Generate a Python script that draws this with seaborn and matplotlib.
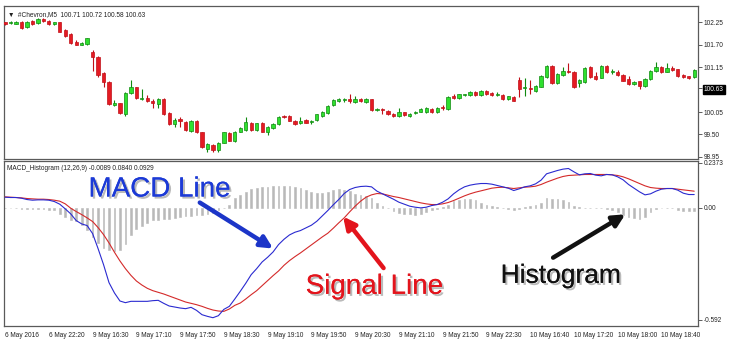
import numpy as np
import matplotlib
matplotlib.use("Agg")
import matplotlib.pyplot as plt
import matplotlib.patheffects as pe
import seaborn as sns

# ---------------- data ----------------
opens = [102.24,102.23,102.20,102.26,102.12,102.27,102.22,102.32,102.27,102.19,
         102.24,102.06,101.95,101.75,101.70,101.72,101.51,101.39,101.01,100.79,
         100.23,100.26,99.99,100.52,100.65,100.37,100.39,100.32,100.24,100.37,
         100.02,99.75,99.87,99.81,99.59,99.83,99.55,99.15,99.24,99.12,
         99.30,99.53,99.34,99.57,99.61,99.79,99.61,99.79,99.55,99.65,
         99.75,99.96,99.95,99.83,99.77,99.85,99.81,99.85,99.95,100.02,
         100.21,100.33,100.35,100.38,100.30,100.37,100.30,100.36,100.10,100.12,
         100.08,100.00,99.96,100.04,99.96,100.02,100.06,100.05,100.13,100.05,
         100.17,100.13,100.43,100.40,100.46,100.47,100.54,100.47,100.56,100.51,
         100.47,100.46,100.36,100.41,100.83,100.63,100.63,100.57,100.67,100.91,
         101.17,100.75,100.96,101.05,101.04,100.77,100.79,101.16,100.93,100.89,
         101.18,101.03,101.04,100.96,100.85,100.73,100.80,100.69,100.85,101.06,
         101.16,101.04,101.13,101.09,100.96,100.92,100.90]
highs = [102.26,102.28,102.28,102.27,102.28,102.29,102.34,102.34,102.29,102.26,
         102.26,102.08,101.97,101.80,101.75,101.87,101.57,101.41,101.03,100.81,
         100.34,100.28,100.53,100.83,100.67,100.61,100.47,100.36,100.40,100.39,
         100.04,99.90,99.94,99.83,99.85,99.85,99.57,99.29,99.26,99.32,
         99.57,99.55,99.59,99.69,99.92,99.81,99.79,99.81,99.71,99.78,
         99.96,99.98,99.97,99.85,99.94,99.87,99.86,100.01,100.08,100.22,
         100.36,100.40,100.39,100.49,100.44,100.39,100.39,100.38,100.14,100.14,
         100.10,100.02,100.14,100.06,100.02,100.08,100.14,100.17,100.15,100.17,
         100.22,100.43,100.48,100.50,100.49,100.57,100.56,100.58,100.58,100.53,
         100.53,100.48,100.45,100.43,100.91,100.87,100.83,100.71,100.95,101.20,
         101.19,101.00,101.16,101.24,101.06,100.85,101.15,101.18,101.04,101.20,
         101.20,101.10,101.08,100.98,100.93,100.81,100.82,100.87,101.08,101.27,
         101.18,101.24,101.18,101.11,100.98,100.94,101.10]
lows = [102.18,102.19,102.19,102.08,102.10,102.18,102.20,102.26,102.17,102.17,
        102.00,101.89,101.71,101.68,101.68,101.70,101.06,100.90,100.67,100.23,
        100.20,100.00,99.95,100.50,100.38,100.34,100.30,100.14,100.14,99.97,
        99.73,99.69,99.69,99.59,99.57,99.53,99.18,99.08,99.06,99.08,
        99.28,99.33,99.32,99.55,99.59,99.59,99.59,99.55,99.49,99.63,
        99.73,99.91,99.82,99.74,99.75,99.77,99.76,99.83,99.93,100.00,
        100.19,100.29,100.30,100.26,100.28,100.30,100.28,100.08,100.08,99.99,
        99.97,99.92,99.94,99.95,99.94,100.00,100.04,100.03,100.03,100.03,
        100.10,100.11,100.37,100.38,100.45,100.45,100.45,100.45,100.46,100.45,
        100.43,100.35,100.34,100.31,100.41,100.43,100.49,100.55,100.65,100.89,
        100.73,100.73,100.94,101.01,100.63,100.65,100.77,100.88,100.83,100.87,
        101.00,100.98,100.94,100.80,100.72,100.71,100.61,100.67,100.83,101.04,
        101.00,101.02,101.06,100.91,100.87,100.85,100.88]
closes = [102.20,102.24,102.26,102.10,102.26,102.20,102.32,102.28,102.19,102.24,
          102.01,101.91,101.73,101.70,101.73,101.85,101.39,100.96,100.79,100.25,
          100.26,100.02,100.51,100.67,100.40,100.39,100.32,100.26,100.36,99.99,
          99.75,99.85,99.82,99.61,99.83,99.55,99.20,99.27,99.12,99.30,
          99.55,99.35,99.57,99.67,99.80,99.61,99.77,99.57,99.69,99.76,
          99.94,99.93,99.84,99.76,99.83,99.79,99.84,99.99,100.06,100.20,
          100.34,100.36,100.37,100.31,100.36,100.32,100.37,100.10,100.12,100.09,
          99.99,99.96,100.06,99.97,100.00,100.06,100.12,100.15,100.05,100.15,
          100.14,100.41,100.40,100.48,100.48,100.55,100.47,100.56,100.48,100.47,
          100.49,100.37,100.43,100.33,100.61,100.65,100.61,100.69,100.93,101.18,
          100.75,100.98,101.05,101.02,100.65,100.83,101.13,100.90,100.85,101.18,
          101.02,101.05,100.96,100.82,100.74,100.79,100.69,100.85,101.06,101.16,
          101.02,101.12,101.08,100.93,100.91,100.87,101.08]

macd = [0.0564,0.0547,0.0547,0.0511,0.0441,0.0406,0.0423,0.0423,0.0406,0.0335,
        0.0194,-0.0053,-0.0317,-0.0670,-0.0847,-0.0935,-0.1358,-0.2152,-0.2998,-0.3951,
        -0.4497,-0.4921,-0.5009,-0.4938,-0.4938,-0.4938,-0.4938,-0.4903,-0.4885,-0.5044,
        -0.5185,-0.5238,-0.5291,-0.5326,-0.5256,-0.5415,-0.5644,-0.5732,-0.5803,-0.5697,
        -0.5362,-0.5203,-0.4815,-0.4409,-0.3986,-0.3527,-0.3210,-0.2857,-0.2610,-0.2328,
        -0.1940,-0.1658,-0.1429,-0.1287,-0.1199,-0.1058,-0.0917,-0.0705,-0.0423,-0.0141,
        0.0159,0.0441,0.0758,0.0970,0.1076,0.1129,0.1146,0.1111,0.0882,0.0741,
        0.0600,0.0459,0.0300,0.0194,0.0088,0.0035,0.0000,0.0035,0.0123,0.0176,
        0.0300,0.0476,0.0741,0.0952,0.1111,0.1199,0.1252,0.1287,0.1287,0.1252,
        0.1182,0.1111,0.1041,0.0917,0.1005,0.1111,0.1164,0.1270,0.1464,0.1799,
        0.1887,0.1975,0.2046,0.2081,0.1905,0.1746,0.1799,0.1817,0.1728,0.1693,
        0.1764,0.1746,0.1640,0.1481,0.1235,0.1041,0.0847,0.0688,0.0741,0.0882,
        0.0988,0.1023,0.1023,0.0935,0.0776,0.0705,0.0705]
signal = [0.0582,0.0564,0.0547,0.0529,0.0494,0.0476,0.0459,0.0459,0.0441,0.0406,
          0.0353,0.0212,-0.0018,-0.0194,-0.0353,-0.0529,-0.0723,-0.1041,-0.1411,-0.1852,
          -0.2346,-0.2804,-0.3210,-0.3563,-0.3862,-0.4074,-0.4250,-0.4374,-0.4462,-0.4550,
          -0.4656,-0.4762,-0.4868,-0.4974,-0.5044,-0.5115,-0.5203,-0.5309,-0.5397,-0.5450,
          -0.5467,-0.5344,-0.5150,-0.5027,-0.4815,-0.4586,-0.4374,-0.4109,-0.3845,-0.3580,
          -0.3333,-0.3034,-0.2787,-0.2575,-0.2381,-0.2169,-0.1958,-0.1746,-0.1534,-0.1340,
          -0.1076,-0.0794,-0.0529,-0.0212,0.0088,0.0353,0.0564,0.0688,0.0758,0.0741,
          0.0670,0.0600,0.0547,0.0476,0.0406,0.0335,0.0265,0.0212,0.0176,0.0176,
          0.0212,0.0282,0.0388,0.0511,0.0635,0.0741,0.0829,0.0899,0.0970,0.1041,
          0.1076,0.1093,0.1058,0.1023,0.1058,0.1093,0.1111,0.1146,0.1235,0.1358,
          0.1464,0.1570,0.1658,0.1711,0.1728,0.1746,0.1764,0.1764,0.1764,0.1764,
          0.1764,0.1746,0.1711,0.1640,0.1534,0.1411,0.1287,0.1164,0.1076,0.1041,
          0.1023,0.1023,0.1023,0.0988,0.0952,0.0917,0.0882]
hist = [-0.0018,-0.0018,-0.0018,-0.0035,-0.0053,-0.0071,-0.0071,-0.0071,-0.0088,-0.0106,
        -0.0317,-0.0459,-0.0635,-0.0705,-0.0917,-0.1164,-0.1552,-0.1834,-0.2116,-0.2205,
        -0.2293,-0.2222,-0.1905,-0.1446,-0.1093,-0.0935,-0.0794,-0.0653,-0.0617,-0.0564,
        -0.0564,-0.0529,-0.0494,-0.0441,-0.0441,-0.0370,-0.0353,-0.0317,-0.0265,-0.0106,
        0.0000,0.0176,0.0529,0.0705,0.0847,0.0988,0.1058,0.1111,0.1129,0.1146,
        0.1182,0.1182,0.1146,0.1111,0.1058,0.0970,0.0864,0.0794,0.0794,0.0847,
        0.0952,0.1005,0.0970,0.0882,0.0758,0.0705,0.0617,0.0529,0.0265,0.0123,
        -0.0018,-0.0176,-0.0265,-0.0300,-0.0335,-0.0353,-0.0317,-0.0229,-0.0123,-0.0035,
        0.0035,0.0176,0.0353,0.0441,0.0494,0.0476,0.0406,0.0265,0.0176,0.0106,
        0.0035,0.0000,-0.0035,-0.0088,-0.0035,0.0035,0.0088,0.0141,0.0265,0.0529,
        0.0494,0.0459,0.0406,0.0317,0.0088,0.0035,0.0000,0.0000,0.0000,-0.0018,
        -0.0053,-0.0123,-0.0212,-0.0353,-0.0459,-0.0529,-0.0564,-0.0459,-0.0212,-0.0071,
        0.0000,0.0000,-0.0018,-0.0088,-0.0159,-0.0176,-0.0141]

time_labels = ['6 May 2016', '6 May 22:20', '9 May 16:30', '9 May 17:10', '9 May 17:50',
               '9 May 18:30', '9 May 19:10', '9 May 19:50', '9 May 20:30', '9 May 21:10',
               '9 May 21:50', '9 May 22:30', '10 May 16:40', '10 May 17:20', '10 May 18:00',
               '10 May 18:40']
price_ticks = [102.25, 101.70, 101.15, 100.63, 100.05, 99.50, 98.95]
price_labels = ['102.25', '101.70', '101.15', '100.63', '100.05', '99.50', '98.95']
macd_ticks = [0.2373, 0.0, -0.592]
macd_labels = ['0.2373', '0.00', '-0.592']
header_price = "\u25bc  #Chevron,M5  100.71 100.72 100.58 100.63"
header_macd = "MACD_Histogram (12,26,9) -0.0089 0.0840 0.0929"

# ---------------- style ----------------
sns.set_theme(style="white")
plt.rcParams['font.family'] = ['Liberation Sans', 'DejaVu Sans']
SMALL = 4.7

W, H = 731, 349
fig = plt.figure(figsize=(W / 100, H / 100), dpi=100)
fig.patch.set_facecolor('white')

def fx(px):
    return px / W

def fy(py):
    return 1 - py / H

left, right = 4, 697.5
ax1 = fig.add_axes([fx(left), fy(158.5), fx(right - left), (158.5 - 6) / H])
ax2 = fig.add_axes([fx(left), fy(325.5), fx(right - left), (325.5 - 160.5) / H])

n = len(opens)
idx = np.arange(n)
o = np.array(opens); c = np.array(closes); hi = np.array(highs); lo = np.array(lows)
up = c >= o

GREEN_FACE, GREEN_EDGE = '#2fe02f', '#108a10'
RED_FACE, RED_EDGE = '#e41b23', '#c01018'

# candles
wick_cols = np.where(up, GREEN_EDGE, RED_EDGE)
ax1.vlines(idx, lo, hi, colors=wick_cols, lw=0.8, zorder=2)
body_bottom = np.minimum(o, c)
body_h = np.maximum(np.abs(c - o), 0.012)
ax1.bar(idx[up], body_h[up], bottom=body_bottom[up], width=0.6,
        color=GREEN_FACE, edgecolor=GREEN_EDGE, linewidth=0.5, zorder=3)
ax1.bar(idx[~up], body_h[~up], bottom=body_bottom[~up], width=0.6,
        color=RED_FACE, edgecolor=RED_EDGE, linewidth=0.5, zorder=3)

ax1.set_xlim(-0.2, 126.6)
ax1.set_ylim(98.913, 102.642)

# MACD panel
ax2.bar(idx, hist, width=0.32, color='#b9b9b9', edgecolor='#b9b9b9', linewidth=0.4, zorder=1)
sns.lineplot(x=idx, y=signal, ax=ax2, color='#d42a2a', lw=0.8, zorder=3)
sns.lineplot(x=idx, y=macd, ax=ax2, color='#2a2ad0', lw=0.8, zorder=4)
ax2.set_xlim(-0.2, 126.6)
ax2.set_ylim(-0.6215, 0.2503)

# spines & ticks
for ax in (ax1, ax2):
    for s in ax.spines.values():
        s.set_color('#5a5a5a')
        s.set_linewidth(0.9)
    ax.yaxis.tick_right()
    ax.tick_params(axis='y', which='both', direction='out', length=3, width=0.6,
                   colors='#444444', labelsize=SMALL, pad=1.5, labelcolor='#222222')
    ax.set_xlabel('')
    ax.set_ylabel('')

ax1.set_xticks([])
ax1.set_yticks(price_ticks)
ax1.set_yticklabels(price_labels)
for lab in ax1.get_yticklabels():
    if lab.get_text() == '100.63':
        lab.set_color('white')
        lab.set_bbox(dict(facecolor='black', edgecolor='black', pad=0.9))

ax2.set_yticks(macd_ticks)
ax2.set_yticklabels(macd_labels)
ax2.set_xticks(np.arange(len(time_labels)) * 8)
ax2.set_xticklabels(time_labels, ha='left')
ax2.tick_params(axis='x', direction='out', length=2.5, width=0.6, colors='#444444',
                labelsize=SMALL, pad=2.0, labelcolor='#222222')
for lab in ax2.get_xticklabels():
    lab.set_x(lab.get_position()[0])

# headers
ax1.text(0.0055, 0.965, header_price, transform=ax1.transAxes, fontsize=SMALL,
         va='top', ha='left', color='#222222', family=['Liberation Sans', 'DejaVu Sans'])
ax2.text(0.0045, 0.975, header_macd, transform=ax2.transAxes, fontsize=SMALL,
         va='top', ha='left', color='#222222')

# annotations
shadow = [pe.withSimplePatchShadow(offset=(1.5, -1.5), shadow_rgbFace='#666666', alpha=0.45),
          pe.Normal()]
ax2.text(28.2, 0.097, 'MACD Line', fontsize=20, color='#1c3ad6', ha='center', va='center',
         path_effects=shadow, zorder=6)
ax2.text(67.5, -0.417, 'Signal Line', fontsize=20, color='#e3141c', ha='center', va='center',
         path_effects=shadow, zorder=6)
ax2.text(101.6, -0.359, 'Histogram', fontsize=19, color='#111111', ha='center', va='center',
         path_effects=shadow, zorder=6)

ax2.annotate('', xy=(49.0, -0.215), xytext=(35.6, 0.028),
             arrowprops=dict(arrowstyle='-|>', color='#1c35c8', lw=3.2, mutation_scale=18,
                             shrinkA=0, shrinkB=0), zorder=6)
ax2.annotate('', xy=(61.8, -0.046), xytext=(69.2, -0.318),
             arrowprops=dict(arrowstyle='-|>', color='#e3141c', lw=3.2, mutation_scale=18,
                             shrinkA=0, shrinkB=0), zorder=6)
ax2.annotate('', xy=(113.4, -0.034), xytext=(100.2, -0.263),
             arrowprops=dict(arrowstyle='-|>', color='#111111', lw=3.2, mutation_scale=18,
                             shrinkA=0, shrinkB=0), zorder=6)

fig.savefig('out.png', dpi=100, facecolor='white')
